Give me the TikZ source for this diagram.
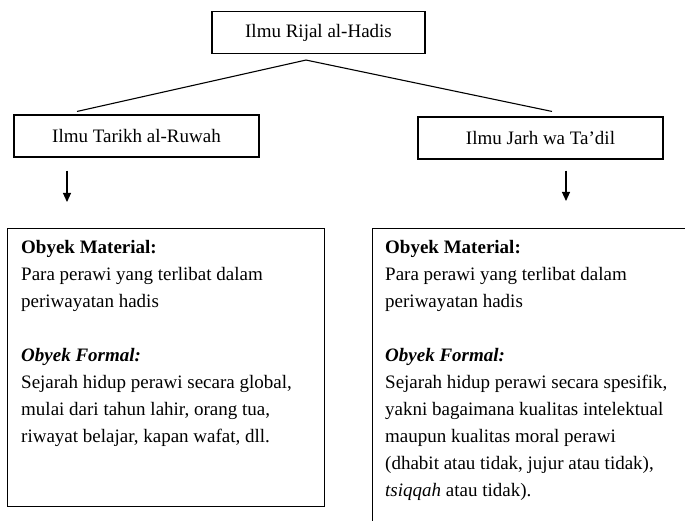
\documentclass[tikz,border=0pt]{standalone}
\usepackage{fontspec}
\setmainfont{Liberation Serif}
\usepackage{tikz}
\usetikzlibrary{arrows.meta}
\usetikzlibrary{positioning}
\tikzstyle{box} = [draw, line width=1.1pt, minimum height=42pt, inner sep=0pt, font=\fontsize{19}{23}\selectfont]
\tikzstyle{panel} = [draw, line width=1.1pt, inner sep=0pt, anchor=north west]
\tikzstyle{txt} = [align=left, inner sep=0pt, anchor=north west, font=\fontsize{19}{27}\selectfont]
\tikzstyle{arrow} = [line width=1.1pt,-{Triangle[length=9pt,width=8pt]}]

\begin{document}
\begin{tikzpicture}[x=1pt,y=-1pt]
\useasboundingbox (0,0) rectangle (685,521);
\clip (0,0) rectangle (685,521);
\node[box, minimum width=213pt] (rijal) at (318.5,32.5) {Ilmu Rijal al-Hadis};
\node[box, minimum width=245pt] (tarikh) at (136.5,136) {Ilmu Tarikh al-Ruwah};
\node[box, minimum width=245pt] (jarh) at (540.5,138) {Ilmu Jarh wa Ta'dil};
\coordinate (apex) at ([xshift=-12.5pt,yshift=-6pt]rijal.south);
\coordinate (tarikh top) at ([xshift=-59.5pt,yshift=3pt]tarikh.north);
\coordinate (jarh top) at ([xshift=11.5pt,yshift=5pt]jarh.north);
\draw[line width=1.1pt] (tarikh top) -- (apex) -- (jarh top);

% objek kajian
\node[panel, minimum width=317pt, minimum height=278pt] (tarikhobj) at (7,228) {};
\node[panel, minimum width=340pt, minimum height=320pt] (jarhobj) at (372,228) {};
\node[txt] (tarikhtxt) at ([xshift=14pt,yshift=-12pt]tarikhobj.north west) {%
\textbf{Obyek Material:}\\
Para perawi yang terlibat dalam\\
periwayatan hadis\\[27pt]
\textbf{\textit{Obyek Formal:}}\\
Sejarah hidup perawi secara global,\\
mulai dari tahun lahir, orang tua,\\
riwayat belajar, kapan wafat,\ dll.};
\node[txt] (jarhtxt) at ([xshift=13pt,yshift=-12pt]jarhobj.north west) {%
\textbf{Obyek Material:}\\
Para perawi yang terlibat dalam\\
periwayatan hadis\\[27pt]
\textbf{\textit{Obyek Formal:}}\\
Sejarah hidup perawi secara spesifik,\\
yakni bagaimana kualitas intelektual\\
maupun kualitas moral perawi\\
(dhabit atau tidak, jujur atau tidak),\\
\textit{tsiqqah} atau tidak).};

\coordinate (tail1) at ([xshift=-69.5pt,yshift=-13pt]tarikh.south);
\coordinate (tail2) at ([xshift=25.5pt,yshift=-11pt]jarh.south);
\draw[arrow, shorten >=26pt] (tail1) -- (tail1 |- tarikhobj.north);
\draw[arrow, shorten >=27pt] (tail2) -- (tail2 |- jarhobj.north);
\end{tikzpicture}
\end{document}
